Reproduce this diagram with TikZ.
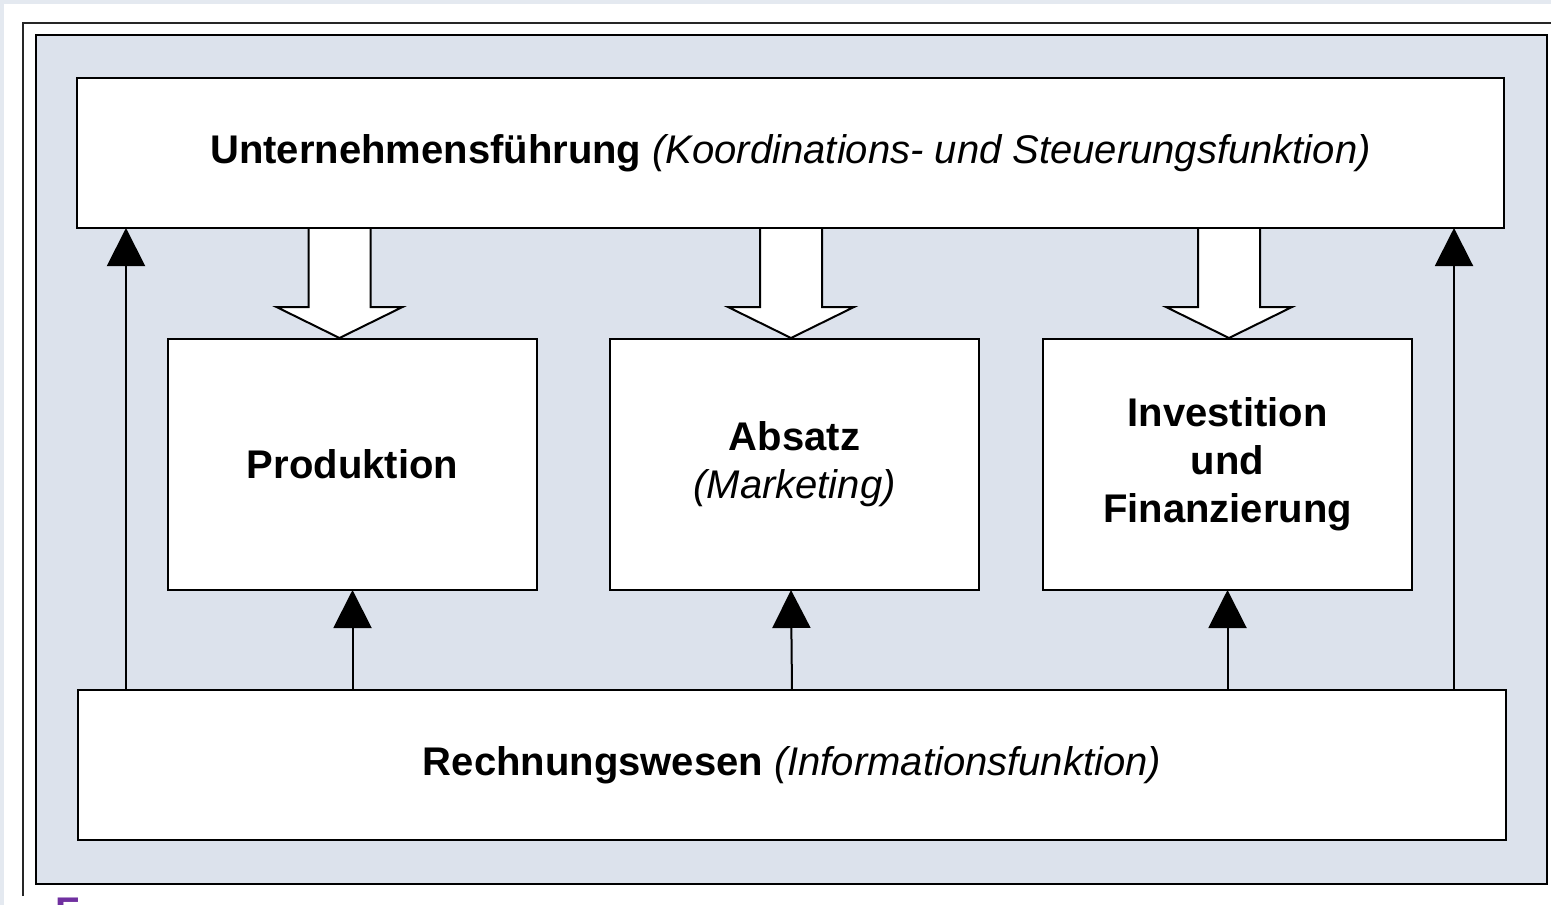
\documentclass[tikz,border=0pt]{standalone}
\usepackage{fontspec}
\setmainfont{Liberation Sans}
\usetikzlibrary{arrows.meta}
\definecolor{panel}{HTML}{DCE2EC}
\definecolor{edge}{HTML}{E4E9F0}
\definecolor{purpleF}{HTML}{7030A0}
\begin{document}
\begin{tikzpicture}[x=1pt,y=-1pt,
  box/.style={draw=black,line width=2pt,fill=white,inner sep=0pt,outer sep=0pt,
    align=center,font=\fontsize{40}{48}\selectfont},
  uparrow/.style={line width=2pt,-{Triangle[width=38pt,length=38pt]}},
  downarrow/.pic={
    \fill[white] (-31,1) -- (-31,79) -- (-63,79) -- (0,110) -- (63,79) -- (31,79) -- (31,1) -- cycle;
    \draw[line width=2pt,line join=miter] (-31,0) -- (-31,79) -- (-63,79) -- (0,110) -- (63,79) -- (31,79) -- (31,0);
  }]
% page frame
\clip (0,0) rectangle (1551,905);
\fill[edge] (0,0) rectangle (1551,905);
\fill[white] (4,4) rectangle (1551,905);
\draw[line width=1.5pt,black!85] (23,896) -- (23,23) -- (1551,23);
\draw[line width=2pt,fill=panel] (36,35) rectangle (1547,884);

% boxes
\node[box,minimum width=1427pt,minimum height=150pt] (top) at (790.5,153)
  {\textbf{Unternehmensführung} \textit{(Koordinations- und Steuerungsfunktion)}};
\node[box,minimum width=1428pt,minimum height=150pt] (bot) at (792,765)
  {\textbf{Rechnungswesen} \textit{(Informationsfunktion)}};
\node[box,minimum width=369pt,minimum height=251pt] (prod) at (352.5,464.5)
  {\textbf{Produktion}};
\node[box,minimum width=369pt,minimum height=251pt] (abs) at (794.5,464.5)
  {\textbf{Absatz}\\\textit{(Marketing)}};
\node[box,minimum width=369pt,minimum height=251pt] (inv) at (1227.5,464.5)
  {\textbf{Investition}\\\textbf{und}\\\textbf{Finanzierung}};

% block arrows from the management box
\pic at ([xshift=-13pt]top.south -| prod) {downarrow};
\pic at ([xshift=-3.5pt]top.south -| abs) {downarrow};
\pic at ([xshift=1.5pt]top.south -| inv) {downarrow};

% information flow from accounting
\coordinate (lx) at (126,0);
\coordinate (rx) at (1454,0);
\draw[uparrow] (bot.north -| lx) -- (top.south -| lx);
\draw[uparrow] (bot.north -| rx) -- (top.south -| rx);
\draw[uparrow] (bot.north -| prod) -- (prod.south);
\draw[uparrow] ([xshift=-2.5pt]bot.north -| abs) -- ([xshift=-3.5pt]abs.south);
\draw[uparrow] (bot.north -| inv) -- (inv.south);

% cut-off caption letter
\node[anchor=base west,inner sep=0pt,text=purpleF,font=\fontsize{40}{48}\selectfont\bfseries] (cap) at (55,925) {F};
\end{tikzpicture}
\end{document}
